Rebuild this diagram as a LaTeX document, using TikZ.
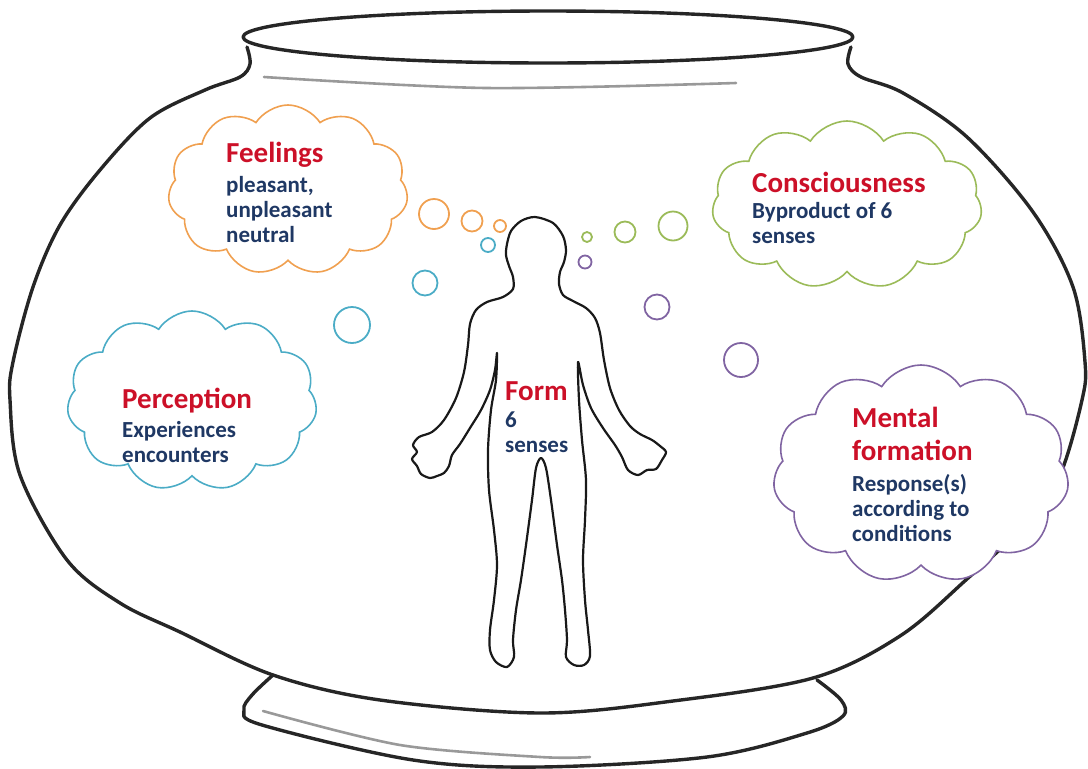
\documentclass[tikz,border=0pt]{standalone}
\usepackage{fontspec}
\setmainfont{Carlito}
\usetikzlibrary{positioning, shapes.symbols}

\definecolor{feelorange}{RGB}{240,160,80}
\definecolor{consgreen}{RGB}{155,187,89}
\definecolor{percteal}{RGB}{75,172,198}
\definecolor{mentpurple}{RGB}{128,100,162}
\definecolor{headred}{RGB}{204,16,40}
\definecolor{noteblue}{RGB}{31,56,100}

\tikzset{
  bowl/.style={line width=3.4pt, black!85, line cap=round, line join=round},
  shine/.style={line width=2.6pt, black!40, line cap=round},
  figure line/.style={line width=2.2pt, black!90, line join=round},
  thought/.style={cloud, cloud puffs=11, cloud puff arc=115, aspect=1.4, draw, fill=white, line width=1.6pt, inner sep=0pt},
  bubble/.style={line width=1.8pt},
  head/.style={font=\fontsize{29}{33}\selectfont\bfseries, text=headred, inner sep=0pt, align=left},
  note/.style={font=\fontsize{23}{25}\selectfont\bfseries, text=noteblue, inner sep=0pt, align=left, anchor=north west},
}

\begin{document}
\begin{tikzpicture}[x=1pt, y=-1pt]
\useasboundingbox (0,0) rectangle (1088,769);

% bowl: rim, body and foot
\draw[bowl] (548,37) ellipse (305 and 26);
\draw[bowl] plot[smooth, tension=0.55] coordinates {(247,47) (250,64) (240,77) (205,90) (150,118) (100,170) (60,225) (33,287) (13,362) (10,400) (20,475) (67,560) (120,603) (180,632) (273,675) (380,700) (540,713) (673,701) (813,678) (900,636) (967,579) (1027,523) (1060,475) (1082,400) (1085,362) (1073,287) (1033,212) (967,137) (903,93) (861,77) (848,64) (851,47)};
\draw[bowl] plot[smooth, tension=0.55] coordinates {(273,675) (252,695) (244,710) (262,725) (413,760) (540,767) (707,757) (807,733) (843,716) (841,700) (817,680)};
\draw[shine] plot[smooth] coordinates {(264,77) (486,88) (736,83)};
\draw[shine] plot[smooth] coordinates {(263,711) (400,745) (540,757) (590,757)};

% the body outline
\draw[figure line] plot[smooth cycle, tension=0.5] coordinates {(535,217) (521,221) (511,231) (507,244) (506,255) (509,266) (513,277) (513,289) (503,297) (487,302) (476,310) (470,324) (468,345) (464,372) (456,398) (444,420) (432,432) (419,437) (413,445) (417,452) (412,459) (417,466) (421,474) (430,478) (437,476) (444,473) (449,466) (452,455) (460,444) (470,428) (481,410) (490,390) (495,370) (497,353) (496,380) (491,410) (488,450) (489,490) (494,530) (497,565) (494,600) (490,630) (490,650) (496,662) (507,667) (514,657) (513,640) (516,610) (521,580) (526,545) (532,500) (536,468) (541,458) (546,468) (551,500) (557,545) (562,580) (565,610) (567,640) (566,657) (574,665) (584,665) (590,656) (588,630) (585,600) (583,560) (585,520) (586,480) (582,440) (579,400) (578,362) (583,385) (591,408) (603,428) (615,445) (622,457) (628,470) (638,475) (647,470) (656,469) (662,460) (666,452) (660,446) (652,440) (640,434) (630,426) (619,410) (610,388) (604,360) (600,333) (595,318) (586,308) (573,301) (563,295) (559,284) (560,272) (564,262) (566,250) (563,236) (553,223)};
\node[head, anchor=base west] (form title) at (505,400) {Form};
\node[note] (form note) at (505,412) {6\\senses};

% thought bubbles
\draw[bubble, feelorange] (434,214) circle (15) (472,221) circle (10.5) (500,226) circle (6);
\draw[bubble, percteal] (488,245) circle (7) (425,283) circle (12.5) (352,325) circle (18);
\draw[bubble, consgreen] (587,237) circle (5) (625,232) circle (10.5) (673,226) circle (14.5);
\draw[bubble, mentpurple] (585,262) circle (6.5) (657,307) circle (12.5) (741,360) circle (17);

% clouds
\node[thought, draw=feelorange, minimum width=240pt, minimum height=170pt] (feel cloud) at (288,190) {};
\node[head, anchor=base west] (feel title) at (226,162) {Feelings};
\node[note] (feel note) at (226,176) {pleasant,\\unpleasant\\neutral};

\node[thought, draw=consgreen, minimum width=270pt, minimum height=168pt] (cons cloud) at (847,205) {};
\node[head, anchor=base west] (cons title) at (752,192) {Consciousness};
\node[note] (cons note) at (752,202) {Byproduct of 6\\senses};

\node[thought, draw=percteal, minimum width=250pt, minimum height=180pt] (perc cloud) at (192,401) {};
\node[head, anchor=base west] (perc title) at (122,408) {Perception};
\node[note] (perc note) at (122,421) {Experiences\\encounters};

\node[thought, draw=mentpurple, minimum width=296pt, minimum height=218pt] (ment cloud) at (921,474) {};
\node[head, anchor=north west] (ment title) at (852,407) {Mental\\formation};
\node[note] (ment note) at (852,474) {Response(s)\\according to\\conditions};
\end{tikzpicture}
\end{document}
